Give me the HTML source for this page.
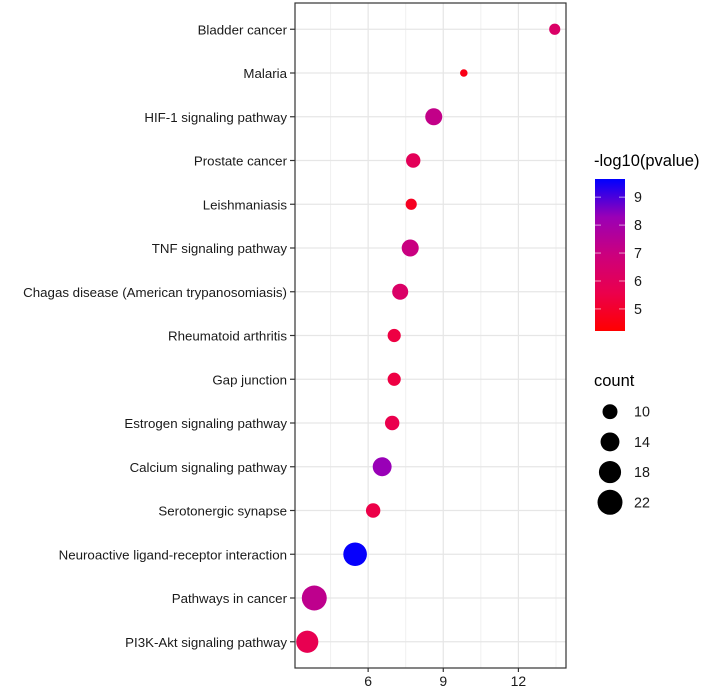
<!DOCTYPE html>
<html><head><meta charset="utf-8"><style>
body{margin:0;background:#fff}
svg{display:block;font-family:"Liberation Sans",Arial,sans-serif}
</style></head><body>
<svg id="c" width="708" height="690" xmlns="http://www.w3.org/2000/svg">
<defs><linearGradient id="grad" x1="0" y1="1" x2="0" y2="0">
<stop offset="0" stop-color="#FF0000"/><stop offset="0.25" stop-color="#EB004C"/><stop offset="0.5" stop-color="#CC007D"/><stop offset="0.75" stop-color="#9A00B6"/><stop offset="1" stop-color="#0000FF"/>
</linearGradient></defs>
</svg>
<script>
const categories=["Bladder cancer","Malaria","HIF-1 signaling pathway","Prostate cancer","Leishmaniasis","TNF signaling pathway","Chagas disease (American trypanosomiasis)","Rheumatoid arthritis","Gap junction","Estrogen signaling pathway","Calcium signaling pathway","Serotonergic synapse","Neuroactive ligand-receptor interaction","Pathways in cancer","PI3K-Akt signaling pathway"];
const xValues=[13.45,9.82,8.62,7.8,7.72,7.68,7.28,7.04,7.04,6.96,6.56,6.2,5.48,3.85,3.57];
const counts=[7,5,12,9.5,7,12,11,8.5,8.5,9.5,14,9.5,20,22,18];
const pvals=[6.3,4.6,7.2,5.9,4.8,7.0,6.3,5.4,5.4,5.6,8.3,5.5,9.6,7.3,5.7];
const xTicks=[6,9,12];
const colorTicks=[5,6,7,8,9];
const sizeTicks=[10,14,18,22];

const NS="http://www.w3.org/2000/svg";
const svg=document.getElementById('c');
function el(t,a,p){const e=document.createElementNS(NS,t);for(const k in a)e.setAttribute(k,a[k]);(p||svg).appendChild(e);return e;}
const L=295,R=566,T=3,B=668;
const xmin=3.08,xmax=13.9;
const xs=v=>L+(v-xmin)/(xmax-xmin)*(R-L);
const step=(B-T)/(categories.length-1+1.2);
const ys=i=>T+step*(0.6+i);
const rs=c=>Math.sqrt(Math.max(4,56+8.33*(c-10)));
const cmin=4.21,cmax=9.65;
function col(v){
 const stops=[[255,0,0],[235,0,76],[204,0,125],[154,0,182],[0,0,255]];
 let t=Math.min(1,Math.max(0,(v-cmin)/(cmax-cmin)))*4;let i=Math.min(3,Math.floor(t));let f=t-i;
 const a=stops[i],b=stops[i+1];
 return `rgb(${a.map((x,k)=>Math.round(x+(b[k]-x)*f)).join(',')})`;
}
for(let v=4.5;v<14;v+=3){const g=el('line',{x1:xs(v),x2:xs(v),y1:T,y2:B,stroke:'#f0f0f0','stroke-width':1});}
xTicks.forEach(v=>{const g=el('line',{x1:xs(v),x2:xs(v),y1:T,y2:B,stroke:'#e6e6e6','stroke-width':1.2});});
categories.forEach((c,i)=>{const g=el('line',{x1:L,x2:R,y1:ys(i),y2:ys(i),stroke:'#e6e6e6','stroke-width':1.2});});
categories.forEach((c,i)=>{
 const p=el('circle',{cx:xs(xValues[i]),cy:ys(i),r:rs(counts[i]),fill:col(pvals[i])});
 
 
 const tk=el('line',{x1:L-5,x2:L,y1:ys(i),y2:ys(i),stroke:'#333','stroke-width':1.2});
 
 
 const t=el('text',{x:L-8,y:ys(i)+5,'text-anchor':'end','font-size':'13.3',fill:'#1a1a1a'});t.textContent=c;
 
 
});
const fr=el('rect',{x:L,y:T,width:R-L,height:B-T,fill:'none',stroke:'#333','stroke-width':1.2});


xTicks.forEach(v=>{
 const tk=el('line',{x1:xs(v),x2:xs(v),y1:B,y2:B+4,stroke:'#333','stroke-width':1.2});
 
 
 const t=el('text',{x:xs(v),y:B+18,'text-anchor':'middle','font-size':'14',fill:'#1a1a1a'});t.textContent=v;
 
 
});
const cbT=179,cbB=331,cbL=595,cbW=30;
const ct=el('text',{x:594,y:166,'font-size':'16.5',fill:'#000'});ct.textContent='-log10(pvalue)';


const cb=el('rect',{x:cbL,y:cbT,width:cbW,height:cbB-cbT,fill:'url(#grad)'});


const cy=v=>cbB-(v-cmin)/(cmax-cmin)*(cbB-cbT);
colorTicks.forEach(v=>{
 el('line',{x1:cbL,x2:cbL+6,y1:cy(v),y2:cy(v),stroke:'#fff','stroke-opacity':0.6});
 el('line',{x1:cbL+cbW-6,x2:cbL+cbW,y1:cy(v),y2:cy(v),stroke:'#fff','stroke-opacity':0.6});
 const t=el('text',{x:634,y:cy(v)+5,'font-size':'14.3',fill:'#1a1a1a'});t.textContent=v;
 
 
});
const st=el('text',{x:594,y:386,'font-size':'16.5',fill:'#000'});st.textContent='count';


sizeTicks.forEach((v,i)=>{
 const y=411.7+i*30.2;
 const c=el('circle',{cx:610,cy:y,r:rs(v),fill:'#000'});
 
 
 const t=el('text',{x:634,y:y+5,'font-size':'14.3',fill:'#1a1a1a'});t.textContent=v;
 
 
});
</script>
</body></html>
